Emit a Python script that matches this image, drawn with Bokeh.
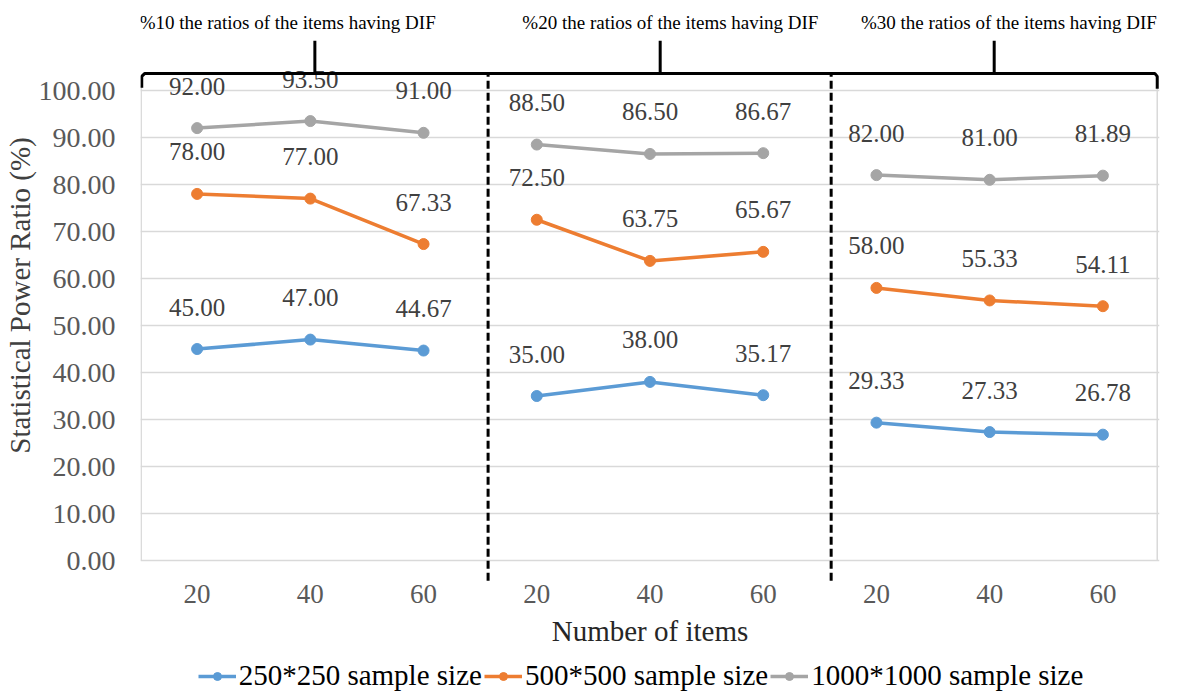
from bokeh.plotting import figure
from bokeh.layouts import column
from bokeh.models import Range1d, FixedTicker, Legend, LegendItem
from bokeh.core.properties import value
from bokeh.embed import file_html
from bokeh.resources import INLINE

# ---- data ----
panel_titles = ["%10 the ratios of the items having DIF",
                "%20 the ratios of the items having DIF",
                "%30 the ratios of the items having DIF"]
item_labels = ["20", "40", "60"]
series_names = ["250*250 sample size", "500*500 sample size", "1000*1000 sample size"]
s250 = [45.00, 47.00, 44.67, 35.00, 38.00, 35.17, 29.33, 27.33, 26.78]
s500 = [78.00, 77.00, 67.33, 72.50, 63.75, 65.67, 58.00, 55.33, 54.11]
s1000 = [92.00, 93.50, 91.00, 88.50, 86.50, 86.67, 82.00, 81.00, 81.89]
y_ticks = [0, 10, 20, 30, 40, 50, 60, 70, 80, 90, 100]

colors = ["#5B9BD5", "#ED7D31", "#A5A5A5"]
FONT = "Liberation Serif"

n_groups = len(panel_titles)
n_items = len(item_labels)
xs = list(range(n_groups * n_items))
series = [s250, s500, s1000]

p = figure(frame_width=1019, frame_height=574, output_backend="svg", toolbar_location=None,
           x_range=Range1d(-0.5, len(xs) - 0.5), y_range=Range1d(-4.68, 117.45),
           min_border_left=135, min_border_right=14, min_border_top=8, min_border_bottom=77)
p.outline_line_color = None
p.background_fill_color = "white"
p.xgrid.visible = False
p.ygrid.grid_line_color = "#d9d9d9"
p.ygrid.grid_line_width = 1.5

# y axis
p.yaxis.ticker = FixedTicker(ticks=y_ticks)
p.yaxis.major_label_overrides = {t: f"{t:.2f}" for t in y_ticks}
p.yaxis.axis_line_color = None
p.yaxis.major_tick_line_color = None
p.yaxis.major_tick_out = 0
p.yaxis.major_tick_in = 0
p.yaxis.minor_tick_line_color = None
p.yaxis.major_label_standoff = 25
p.yaxis.major_label_text_font = FONT
p.yaxis.major_label_text_font_size = "28px"
p.yaxis.major_label_text_color = "#595959"
p.yaxis.axis_label = "Statistical Power Ratio (%)"
p.yaxis.axis_label_text_font = FONT
p.yaxis.axis_label_text_font_size = "29px"
p.yaxis.axis_label_text_font_style = "normal"
p.yaxis.axis_label_text_color = "#404040"
p.yaxis.axis_label_standoff = 0

# x axis
p.xaxis.ticker = FixedTicker(ticks=xs)
p.xaxis.major_label_overrides = {x: item_labels[x % n_items] for x in xs}
p.xaxis.axis_line_color = None
p.xaxis.major_tick_line_color = None
p.xaxis.major_tick_out = 0
p.xaxis.major_tick_in = 0
p.xaxis.minor_tick_line_color = None
p.xaxis.major_label_standoff = 2
p.xaxis.major_label_text_font = FONT
p.xaxis.major_label_text_font_size = "27px"
p.xaxis.major_label_text_color = "#595959"
p.xaxis.axis_label = "Number of items"
p.xaxis.axis_label_text_font = FONT
p.xaxis.axis_label_text_font_size = "29px"
p.xaxis.axis_label_text_font_style = "normal"
p.xaxis.axis_label_text_color = "#262626"
p.xaxis.axis_label_standoff = 9

# plot-area border (light gray sides)
x_left = -0.5 + 0.006
x_right = len(xs) - 0.5 - 0.02
p.segment(x0=[x_left, x_right], y0=[0, 0], x1=[x_left, x_right], y1=[101.0, 100.4],
          line_color="#d9d9d9", line_width=1.5)

# series
for vals, col in zip(series, colors):
    for g in range(n_groups):
        seg_x = xs[g * n_items:(g + 1) * n_items]
        seg_y = vals[g * n_items:(g + 1) * n_items]
        p.line(seg_x, seg_y, line_color=col, line_width=3.5)
    p.scatter(xs, vals, marker="circle", size=11, fill_color=col, line_color=col)
    p.text(xs, vals, text=[f"{v:.2f}" for v in vals], y_offset=-42,
           text_align="center", text_baseline="middle",
           text_font=value(FONT), text_font_size="25px", text_color="#404040")

# bracket and separators
y_br = 103.6
p.line([x_left + 0.005, x_left + 0.005, x_left + 0.03, x_right - 0.02, x_right, x_right],
       [100.6, 103.0, y_br, y_br, 103.0, 100.4], line_color="black", line_width=3)
stem_x = [1.04, 4.09, 7.04]
p.segment(x0=stem_x, y0=[y_br] * 3, x1=stem_x, y1=[110.6] * 3, line_color="black", line_width=3)
sep_x = [2.57, 5.6]
p.segment(x0=sep_x, y0=[-4.3] * 2, x1=sep_x, y1=[y_br] * 2, line_color="black",
          line_width=3, line_dash="8 4")
title_x = [0.80, 4.18, 7.17]
p.text(title_x, [114.5] * 3, text=panel_titles, text_align="center", text_baseline="middle",
       text_font=value(FONT), text_font_size="19px", text_color="black")

# ---- legend strip below the chart (series drawn out of view; only the legend shows) ----
lg = figure(frame_width=1157, frame_height=34, output_backend="svg", toolbar_location=None,
            x_range=Range1d(-0.5, len(xs) - 0.5), y_range=Range1d(1000, 1001),
            x_axis_type=None, y_axis_type=None, min_border_left=0, min_border_right=11,
            min_border_top=0, min_border_bottom=0)
lg.outline_line_color = None
lg.xgrid.visible = False
lg.ygrid.visible = False
legend_items = []
for vals, name, col in zip(series, series_names, colors):
    rl = lg.line(xs, vals, line_color=col, line_width=3.5)
    rs = lg.scatter(xs, vals, marker="circle", size=11, fill_color=col, line_color=col)
    legend_items.append(LegendItem(label=name, renderers=[rl, rs]))
legend = Legend(items=legend_items, orientation="horizontal", location=(194, 1),
                label_text_font=FONT, label_text_font_size="29px", label_text_color="black",
                glyph_width=38, glyph_height=20, label_standoff=3, spacing=2,
                padding=0, margin=0, border_line_color=None, background_fill_alpha=0)
lg.add_layout(legend, "center")

layout = column(p, lg, spacing=0)
open("out.html", "w").write(file_html(layout, INLINE))
